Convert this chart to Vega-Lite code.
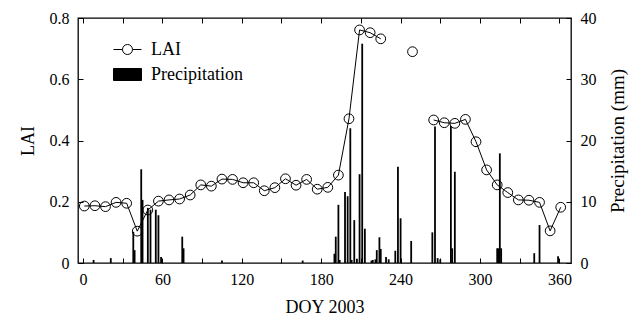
{
  "$schema": "https://vega.github.io/schema/vega-lite/v6.json",
  "width": 493,
  "height": 245,
  "autosize": "none",
  "padding": {"left": 78, "top": 18, "right": 62, "bottom": 58},
  "background": "white",
  "config": {
    "font": "Liberation Serif",
    "view": {"stroke": "black", "strokeWidth": 1.3},
    "axis": {
      "labelFont": "Liberation Serif",
      "titleFont": "Liberation Serif",
      "labelFontSize": 16,
      "titleFontSize": 18,
      "titleFontWeight": "normal",
      "labelColor": "black",
      "titleColor": "black",
      "tickColor": "black",
      "tickSize": -5,
      "tickWidth": 1,
      "labelPadding": 14,
      "domain": false,
      "grid": false
    }
  },
  "datasets": {
    "lai": [
      {"doy": 1, "lai": 0.186, "seg": 1}, {"doy": 9, "lai": 0.187, "seg": 1}, {"doy": 17, "lai": 0.184, "seg": 1},
      {"doy": 25, "lai": 0.198, "seg": 1}, {"doy": 33, "lai": 0.195, "seg": 1}, {"doy": 41, "lai": 0.104, "seg": 1},
      {"doy": 49, "lai": 0.173, "seg": 1}, {"doy": 57, "lai": 0.202, "seg": 1}, {"doy": 65, "lai": 0.206, "seg": 1},
      {"doy": 73, "lai": 0.209, "seg": 1}, {"doy": 81, "lai": 0.222, "seg": 1}, {"doy": 89, "lai": 0.255, "seg": 1},
      {"doy": 97, "lai": 0.251, "seg": 1}, {"doy": 105, "lai": 0.274, "seg": 1}, {"doy": 113, "lai": 0.273, "seg": 1},
      {"doy": 121, "lai": 0.262, "seg": 1}, {"doy": 129, "lai": 0.262, "seg": 1}, {"doy": 137, "lai": 0.236, "seg": 1},
      {"doy": 145, "lai": 0.246, "seg": 1}, {"doy": 153, "lai": 0.275, "seg": 1}, {"doy": 161, "lai": 0.254, "seg": 1},
      {"doy": 169, "lai": 0.273, "seg": 1}, {"doy": 177, "lai": 0.241, "seg": 1}, {"doy": 185, "lai": 0.247, "seg": 1},
      {"doy": 193, "lai": 0.287, "seg": 1}, {"doy": 201, "lai": 0.471, "seg": 1}, {"doy": 209, "lai": 0.761, "seg": 1},
      {"doy": 217, "lai": 0.752, "seg": 1}, {"doy": 225, "lai": 0.732, "seg": 1},
      {"doy": 249, "lai": 0.690, "seg": 2},
      {"doy": 265, "lai": 0.467, "seg": 3}, {"doy": 273, "lai": 0.458, "seg": 3}, {"doy": 281, "lai": 0.456, "seg": 3},
      {"doy": 289, "lai": 0.469, "seg": 3}, {"doy": 297, "lai": 0.396, "seg": 3}, {"doy": 305, "lai": 0.304, "seg": 3},
      {"doy": 313, "lai": 0.255, "seg": 3}, {"doy": 321, "lai": 0.230, "seg": 3}, {"doy": 329, "lai": 0.206, "seg": 3},
      {"doy": 337, "lai": 0.205, "seg": 3}, {"doy": 345, "lai": 0.198, "seg": 3}, {"doy": 353, "lai": 0.105, "seg": 3},
      {"doy": 361, "lai": 0.182, "seg": 3}
    ],
    "precip": [
      {"doy": 8, "p": 0.5}, {"doy": 21, "p": 0.8}, {"doy": 38, "p": 5.1}, {"doy": 39, "p": 2.1},
      {"doy": 44, "p": 15.3}, {"doy": 45, "p": 10.3}, {"doy": 49, "p": 9.0}, {"doy": 51, "p": 8.7},
      {"doy": 55, "p": 8.7}, {"doy": 57, "p": 7.8}, {"doy": 59, "p": 1.0}, {"doy": 75, "p": 4.3},
      {"doy": 76, "p": 2.4}, {"doy": 105, "p": 0.4}, {"doy": 166, "p": 0.4}, {"doy": 190, "p": 1.5},
      {"doy": 191, "p": 4.3}, {"doy": 193, "p": 9.5}, {"doy": 194, "p": 0.5}, {"doy": 198, "p": 11.6},
      {"doy": 200, "p": 10.9}, {"doy": 202, "p": 22.0}, {"doy": 203, "p": 0.5}, {"doy": 205, "p": 7.0},
      {"doy": 207, "p": 0.7}, {"doy": 209, "p": 14.5}, {"doy": 211, "p": 35.8}, {"doy": 213, "p": 5.6},
      {"doy": 218, "p": 0.4}, {"doy": 219, "p": 0.5}, {"doy": 221, "p": 0.6}, {"doy": 222, "p": 2.1},
      {"doy": 224, "p": 4.2}, {"doy": 225, "p": 2.3}, {"doy": 229, "p": 1.0}, {"doy": 231, "p": 0.6},
      {"doy": 236, "p": 2.0}, {"doy": 238, "p": 15.7}, {"doy": 240, "p": 7.3}, {"doy": 248, "p": 3.6},
      {"doy": 264, "p": 5.0}, {"doy": 266, "p": 22.3}, {"doy": 268, "p": 0.8}, {"doy": 270, "p": 0.6},
      {"doy": 278, "p": 22.4}, {"doy": 279, "p": 2.4}, {"doy": 281, "p": 14.9}, {"doy": 313, "p": 2.4},
      {"doy": 314, "p": 2.4}, {"doy": 315, "p": 17.9}, {"doy": 316, "p": 2.4}, {"doy": 341, "p": 1.6},
      {"doy": 345, "p": 6.2}, {"doy": 359, "p": 1.1}
    ]
  },
  "layer": [
    {
      "data": {"name": "precip"},
      "mark": {"type": "bar", "width": 1.8, "color": "black"},
      "encoding": {
        "x": {
          "field": "doy", "type": "quantitative",
          "scale": {"domain": [0, 365], "nice": false, "zero": false},
          "axis": {"orient": "top", "values": [0, 30, 60, 90, 120, 150, 180, 210, 240, 270, 300, 330, 360], "labels": false, "title": null}
        },
        "y": {
          "field": "p", "type": "quantitative",
          "scale": {"domain": [0, 40], "nice": false},
          "axis": {"orient": "right", "values": [0, 10, 20, 30, 40], "title": "Precipitation (mm)", "titleAngle": 270, "titleBaseline": "top", "titlePadding": 12, "titleFontSize": 19}
        },
        "color": {
          "datum": "Precipitation", "type": "nominal",
          "scale": {"domain": ["LAI", "Precipitation"], "range": ["black", "black"]},
          "legend": {
            "orient": "none", "legendX": 40, "legendY": 22, "title": null, "padding": 0,
            "labelFont": "Liberation Serif", "labelFontSize": 18, "labelColor": "black",
            "symbolSize": 324, "labelOffset": 14, "rowPadding": 6,
            "encode": {
              "symbols": {
                "update": {
                  "shape": {"signal": "datum.value === 'LAI' ? 'M-1.556,0H-0.556M0.556,0H1.556M-0.556,0A0.556,0.556,0,1,0,0.556,0A0.556,0.556,0,1,0,-0.556,0' : 'M-1.556,-0.667H1.556V0.667H-1.556Z'"},
                  "fill": {"signal": "datum.value === 'LAI' ? 'white' : 'black'"},
                  "fillOpacity": {"signal": "datum.value === 'LAI' ? 0 : 1"},
                  "stroke": {"value": "black"},
                  "strokeWidth": {"value": 1},
                  "opacity": {"value": 1}
                }
              }
            }
          }
        }
      }
    },
    {
      "data": {"name": "lai"},
      "mark": {"type": "line", "strokeWidth": 1},
      "encoding": {
        "x": {
          "field": "doy", "type": "quantitative",
          "scale": {"domain": [0, 365], "nice": false, "zero": false},
          "axis": {"orient": "bottom", "values": [0, 30, 60, 90, 120, 150, 180, 210, 240, 270, 300, 330, 360], "labelExpr": "datum.value % 60 == 0 ? datum.label : ''", "title": "DOY 2003", "titlePadding": 11, "labelPadding": 13}
        },
        "y": {
          "field": "lai", "type": "quantitative",
          "scale": {"domain": [0, 0.8], "nice": false},
          "axis": {"orient": "left", "values": [0, 0.2, 0.4, 0.6, 0.8], "labelExpr": "datum.value == 0 ? '0' : format(datum.value, '.1f')", "title": "LAI", "titlePadding": 12}
        },
        "detail": {"field": "seg", "type": "nominal"},
        "color": {"datum": "LAI", "type": "nominal"}
      }
    },
    {
      "data": {"name": "lai"},
      "mark": {"type": "point", "shape": "circle", "filled": false, "stroke": "black", "strokeWidth": 1, "size": 95, "opacity": 1},
      "encoding": {
        "x": {"field": "doy", "type": "quantitative", "scale": {"domain": [0, 365], "nice": false, "zero": false}, "axis": null},
        "y": {"field": "lai", "type": "quantitative", "scale": {"domain": [0, 0.8], "nice": false}, "axis": null}
      }
    }
  ],
  "resolve": {"scale": {"y": "independent"}, "axis": {"x": "independent", "y": "independent"}}
}
